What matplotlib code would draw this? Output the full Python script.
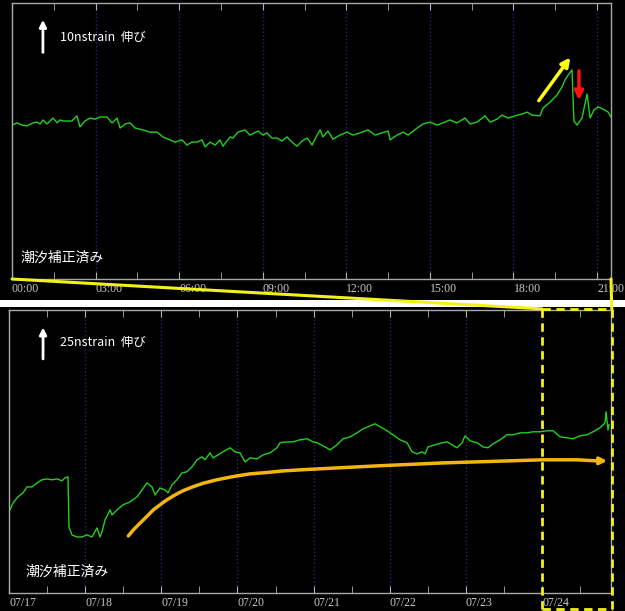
import numpy as np
import matplotlib
matplotlib.use("Agg")
import matplotlib.pyplot as plt
from matplotlib.patches import Rectangle, ConnectionPatch
from matplotlib.lines import Line2D

JP = ['Noto Sans CJK JP', 'DejaVu Sans']

# --- top panel: 07/24, hours vs strain (nstrain, tide corrected) ---
top_hours = [0.00, 0.18, 0.36, 0.54, 0.75, 0.90, 1.01, 1.11, 1.26, 1.47, 1.62, 1.72, 1.83, 1.97,
             2.15, 2.33, 2.44, 2.62, 2.80, 2.98, 3.16, 3.41, 3.59, 3.77, 3.88, 4.06, 4.24, 4.42,
             4.70, 4.95, 5.21, 5.42, 5.67, 5.85, 6.10, 6.28, 6.46, 6.64, 6.82, 6.93, 7.11, 7.29,
             7.47, 7.57, 7.83, 7.93, 8.11, 8.36, 8.54, 8.83, 9.01, 9.15, 9.33, 9.51, 9.69, 9.87,
             10.05, 10.23, 10.41, 10.59, 10.77, 10.95, 11.06, 11.16, 11.34, 11.52, 11.77, 12.03,
             12.24, 12.49, 12.78, 13.03, 13.28, 13.50, 13.57, 13.82, 14.04, 14.22, 14.54, 14.75,
             15.00, 15.26, 15.47, 15.72, 15.97, 16.26, 16.44, 16.69, 16.98, 17.16, 17.41, 17.59,
             17.81, 18.06, 18.31, 18.49, 18.67, 18.95, 19.06, 19.31, 19.56, 19.74, 19.85, 19.96,
             20.10, 20.17, 20.28, 20.46, 20.64, 20.75, 20.89, 21.04, 21.22, 21.40, 21.50]
top_strain = [41.6, 42.2, 41.6, 41.4, 42.2, 42.4, 41.9, 43.0, 41.9, 43.5, 42.2, 43.0, 42.7, 42.7,
              42.7, 44.1, 41.1, 42.7, 43.5, 43.2, 43.8, 43.8, 42.2, 43.5, 40.8, 41.9, 42.2, 40.8,
              40.3, 39.7, 39.7, 38.4, 37.6, 37.0, 37.6, 36.2, 37.0, 37.0, 37.6, 35.7, 37.0, 36.2,
              37.6, 35.9, 38.4, 38.1, 39.7, 40.3, 38.9, 40.0, 38.9, 39.5, 38.1, 38.1, 37.3, 38.4,
              37.0, 35.9, 37.3, 38.1, 36.2, 38.9, 40.3, 38.4, 40.0, 37.8, 38.9, 39.7,
              38.9, 39.5, 40.3, 38.9, 39.5, 40.0, 37.6, 38.9, 39.7, 38.9, 40.8, 41.9,
              42.4, 41.6, 42.2, 43.0, 42.2, 43.5, 41.9, 42.4, 44.1, 42.4, 43.2, 44.3,
              43.5, 44.1, 44.6, 45.1, 44.3, 44.1, 46.2, 47.8, 49.7, 51.9, 53.8, 55.1,
              56.5, 42.7, 41.6, 43.5, 50.0, 43.5, 45.7, 46.5, 45.9, 45.1, 43.8]
top_ticks = [0, 3, 6, 9, 12, 15, 18, 21]
top_labels = ['00:00', '03:00', '06:00', '09:00', '12:00', '15:00', '18:00', '21:00']

# --- bottom panel: 07/17 - 07/24, days vs strain ---
bot_days = [0.013, 0.053, 0.118, 0.184, 0.236, 0.302, 0.368, 0.433, 0.499, 0.565, 0.630, 0.696,
            0.735, 0.775, 0.788, 0.827, 0.893, 0.959, 1.024, 1.090, 1.156, 1.195, 1.221, 1.261,
            1.327, 1.353, 1.418, 1.497, 1.589, 1.681, 1.747, 1.812, 1.878, 1.918, 1.983, 2.049,
            2.088, 2.141, 2.206, 2.272, 2.338, 2.403, 2.469, 2.535, 2.574, 2.640, 2.679, 2.745,
            2.811, 2.903, 2.968, 3.034, 3.100, 3.165, 3.257, 3.336, 3.428, 3.520, 3.559, 3.651,
            3.730, 3.822, 3.914, 3.993, 4.045, 4.150, 4.216, 4.308, 4.387, 4.479, 4.571, 4.649,
            4.741, 4.807, 4.873, 4.965, 5.043, 5.135, 5.227, 5.293, 5.359, 5.424, 5.464, 5.503,
            5.595, 5.687, 5.753, 5.818, 5.884, 5.950, 5.989, 6.055, 6.147, 6.225, 6.291, 6.357,
            6.449, 6.540, 6.619, 6.711, 6.803, 6.882, 6.974, 7.066, 7.145, 7.237, 7.329, 7.407,
            7.499, 7.591, 7.670, 7.762, 7.828, 7.841, 7.867, 7.880]
bot_strain = [56.1, 60.8, 64.9, 67.6, 71.6, 71.6, 74.3, 76.4, 77.0, 76.4, 77.0, 75.7,
              77.7, 78.4, 44.6, 39.2, 37.8, 37.8, 39.2, 37.8, 43.9, 37.8, 41.2, 49.3,
              56.1, 52.7, 56.1, 59.5, 61.5, 64.9, 69.6, 74.3, 71.6, 66.2, 70.9, 69.6,
              67.6, 73.0, 76.4, 81.1, 81.8, 85.1, 89.9, 91.9, 89.9, 94.6, 91.2, 93.2,
              95.3, 98.0, 95.3, 94.6, 88.5, 91.2, 90.5, 93.2, 94.6, 98.0, 101.4, 102.0,
              102.0, 103.4, 104.1, 102.0, 101.4, 98.6, 96.6, 100.0, 104.1, 105.4, 108.1, 110.8,
              112.8, 114.2, 112.2, 109.5, 106.8, 103.4, 101.4, 95.3, 93.9, 95.3, 93.9, 98.6,
              100.0, 101.4, 102.0, 100.0, 98.0, 101.4, 106.1, 102.7, 101.4, 98.6, 98.0, 100.7,
              103.4, 106.8, 106.8, 108.1, 108.1, 108.8, 108.8, 109.5, 109.5, 105.4, 104.7, 104.1,
              106.1, 106.8, 108.8, 111.5, 114.9, 122.3, 110.1, 113.5]
bot_ticks = [0, 1, 2, 3, 4, 5, 6, 7]
bot_labels = ['07/17', '07/18', '07/19', '07/20', '07/21', '07/22', '07/23', '07/24']

# orange trend sketch (days, nstrain)
trend_days = [1.567, 1.633, 1.720, 1.809, 1.895, 1.983, 2.071, 2.180, 2.289, 2.421, 2.552,
              2.728, 2.946, 3.165, 3.384, 3.602, 3.822, 3.997, 4.833, 5.700, 6.580, 7.013,
              7.460, 7.710, 7.893]
trend_strain = [38.5, 42.6, 47.1, 51.6, 56.1, 59.5, 62.8, 66.2, 69.1, 71.8, 74.1,
                76.4, 78.6, 80.4, 81.3, 82.4, 83.1, 83.6, 85.8, 87.8, 89.2, 89.9,
                89.9, 89.2, 89.2]

fig = plt.figure(figsize=(6.25, 6.11), dpi=100, facecolor='black')
W, H = 625, 611
ax1 = fig.add_axes([12 / W, 1 - 279 / H, 599 / W, 276 / H])
ax2 = fig.add_axes([9 / W, 1 - 593 / H, 602 / W, 283 / H])

fig.add_artist(Rectangle((0, 1 - 307 / H), 1, 7 / H, transform=fig.transFigure,
                         facecolor='white', edgecolor='none', zorder=1))

for ax in (ax1, ax2):
    ax.set_facecolor('black')
    for s in ax.spines.values():
        s.set_color('#a8a8a8')
        s.set_linewidth(1)
    ax.set_yticks([])
    ax.tick_params(axis='x', which='both', direction='in', length=5, color='#b0b0b0',
                   top=True, bottom=True, labelcolor='#c8c8c8', labelsize=8.5, pad=3)
    ax.grid(axis='x', which='major', color='#25257a', linestyle=':', linewidth=1)

ax1.plot(top_hours, top_strain, color='#22d022', lw=1)
ax1.set_xlim(0, 21.5)
ax1.set_ylim(0, 74.6)
ax1.set_xticks(top_ticks, labels=top_labels, ha='left', family='Liberation Serif')
ax1.set_xticks(np.arange(1.5, 21, 3), minor=True)

ax2.plot(bot_days, bot_strain, color='#22d022', lw=1)
ax2.set_xlim(0, 7.906)
ax2.set_ylim(0, 191)
ax2.set_xticks(bot_ticks, labels=bot_labels, ha='left', family='Liberation Serif')
ax2.set_xticks(np.arange(0.5, 7.9, 1), minor=True)

# scale arrows and labels
ax1.annotate('', xy=(1.11, 70.8), xytext=(1.11, 60.5),
             arrowprops=dict(arrowstyle='-|>', color='white', lw=2, mutation_scale=10))
ax1.text(1.72, 65.4, '10nstrain  伸び', color='white', fontsize=9, family=JP, va='center')
ax1.text(0.32, 5.7, '潮汐補正済み', color='white', fontsize=10, family=JP, va='center')

ax2.annotate('', xy=(0.447, 181.1), xytext=(0.447, 156.1),
             arrowprops=dict(arrowstyle='-|>', color='white', lw=2, mutation_scale=10))
ax2.text(0.67, 168.9, '25nstrain  伸び', color='white', fontsize=9, family=JP, va='center')
ax2.text(0.223, 14.2, '潮汐補正済み', color='white', fontsize=10, family=JP, va='center')

# yellow / red arrows in top panel
ax1.annotate('', xy=(20.10, 60.5), xytext=(18.85, 47.6),
             arrowprops=dict(arrowstyle='-|>', color='#ffff10', lw=2.5, mutation_scale=13))
ax1.annotate('', xy=(20.35, 47.6), xytext=(20.35, 57.0),
             arrowprops=dict(arrowstyle='-|>', color='#ff1010', lw=2.5, mutation_scale=13))

# orange trend curve
ax2.plot(trend_days[:-1], trend_strain[:-1], color='#f4b412', lw=2.5,
         solid_capstyle='round', solid_joinstyle='round')
ax2.annotate('', xy=(trend_days[-1], trend_strain[-1]), xytext=(trend_days[-2], trend_strain[-2]),
             arrowprops=dict(arrowstyle='-|>', color='#f4b412', lw=2.5, mutation_scale=10))

# zoom box: top panel covers 07/24 00:00 - 21:30
box_l = 7.0
box_r = 7.0 + 21.5 / 24 + 0.02
xt = ax2.get_xaxis_transform()
ycol = '#f2f21a'
for xs, ys in [([box_l, box_l], [1.004, -0.07]), ([box_l, box_r], [1.004, 1.004]),
               ([box_r, box_r], [1.004, -0.07]), ([box_l, box_r], [-0.058, -0.058])]:
    ln = Line2D(xs, ys, transform=xt, color=ycol, lw=2, linestyle=(0, (3, 2)),
                clip_on=False, zorder=10)
    ax2.add_line(ln)

for xa, xb in [(0, box_l), (1, box_r)]:
    con = ConnectionPatch(xyA=(xa, 0), coordsA=ax1.transAxes,
                          xyB=(xb, 1.004), coordsB=xt,
                          color=ycol, lw=2.2, zorder=10)
    fig.add_artist(con)

fig.savefig('out.png', dpi=100, facecolor='black')
